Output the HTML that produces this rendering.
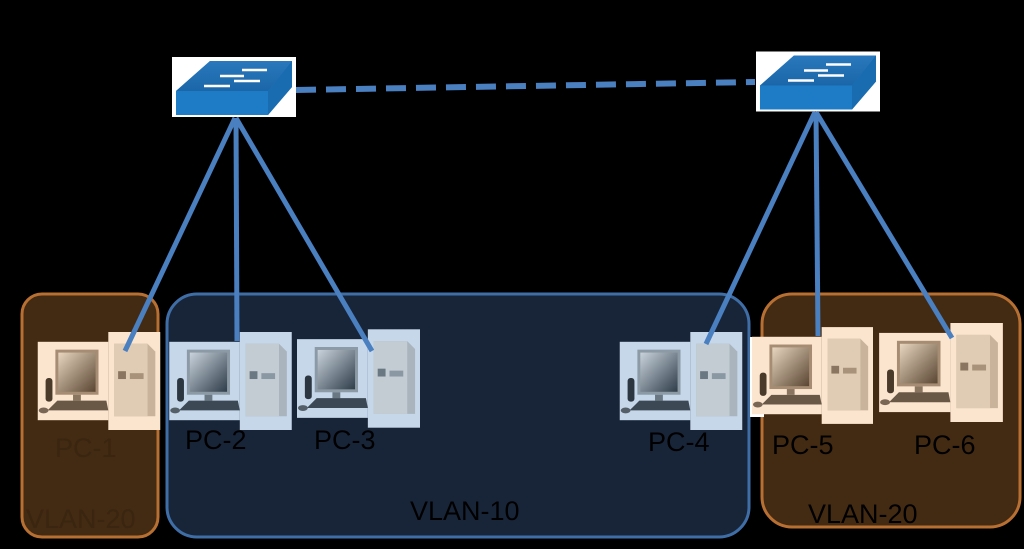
<!DOCTYPE html>
<html><head><style>
html,body{margin:0;padding:0;background:#000;width:1024px;height:549px;overflow:hidden}
svg{display:block}
text{font-family:"Liberation Sans",sans-serif}
</style></head><body>
<svg width="1024" height="549" viewBox="0 0 1024 549">
<defs>
<linearGradient id="mb" x1="0" y1="0" x2="1" y2="1"><stop offset="0" stop-color="#c9d3dc"/><stop offset="1" stop-color="#2f3d4a"/></linearGradient>
<linearGradient id="mp" x1="0" y1="0" x2="1" y2="1"><stop offset="0" stop-color="#e8d6c0"/><stop offset="1" stop-color="#5a4632"/></linearGradient>
<linearGradient id="swg" x1="0" y1="0" x2="0" y2="1"><stop offset="0" stop-color="#2a78bd"/><stop offset="1" stop-color="#1a66a8"/></linearGradient>
<symbol id="pcb" viewBox="0 0 125 100">
<rect x="0" y="10" width="72" height="80" fill="#c6d7ea"/>
<rect x="72" y="0" width="53" height="100" fill="#c6d7ea"/>
<rect x="18" y="18" width="44" height="46" fill="#8c9aa6"/><rect x="21" y="21" width="38" height="40" fill="url(#mb)"/>
<rect x="36" y="64" width="8" height="6" fill="#6a7884"/>
<rect x="8" y="47" width="7" height="24" rx="3" fill="#2b3640"/>
<polygon points="10,80 20,70 70,70 72,80" fill="#3c4954"/>
<ellipse cx="6" cy="80" rx="5" ry="3" fill="#555f68"/>
<polygon points="78,12 112,12 120,20 120,86 78,86" fill="#a9b4bc"/><rect x="78" y="12" width="34" height="74" fill="#c3ccd3"/>
<rect x="82" y="40" width="8" height="8" fill="#6a7884"/><rect x="94" y="42" width="14" height="6" fill="#8a98a4"/>
</symbol>
<symbol id="pcp" viewBox="0 0 125 100">
<rect x="0" y="10" width="72" height="80" fill="#fbe5cf"/>
<rect x="72" y="0" width="53" height="100" fill="#fbe5cf"/>
<rect x="18" y="18" width="44" height="46" fill="#a58c72"/><rect x="21" y="21" width="38" height="40" fill="url(#mp)"/>
<rect x="36" y="64" width="8" height="6" fill="#8a7560"/>
<rect x="8" y="47" width="7" height="24" rx="3" fill="#4a3a2a"/>
<polygon points="10,80 20,70 70,70 72,80" fill="#6a5846"/>
<ellipse cx="6" cy="80" rx="5" ry="3" fill="#7a6654"/>
<polygon points="78,12 112,12 120,20 120,86 78,86" fill="#c9b49b"/><rect x="78" y="12" width="34" height="74" fill="#e0ccb4"/>
<rect x="82" y="40" width="8" height="8" fill="#8a7560"/><rect x="94" y="42" width="14" height="6" fill="#a8927a"/>
</symbol>
<symbol id="swi" viewBox="0 0 124 60">
<rect width="124" height="60" fill="#fff"/>
<polygon points="4,34 38,4 120,4 120,30 96,58 4,58" fill="#1e7cc6"/>
<polygon points="4,34 38,4 120,4 96,34" fill="url(#swg)"/>
<polygon points="96,34 120,4 120,30 96,58" fill="#1a6cb0"/>
<g stroke="#fff" stroke-width="2.5"><line x1="70" y1="13" x2="95" y2="13"/><line x1="48" y1="19" x2="72" y2="19"/><line x1="62" y1="24" x2="88" y2="24"/><line x1="32" y1="29" x2="58" y2="29"/></g>
</symbol>
</defs>
<rect x="22" y="294" width="136" height="243" rx="20" fill="#432a13" stroke="#b86f32" stroke-width="3"/>
<rect x="167" y="294" width="582" height="243" rx="30" fill="#182538" stroke="#3f6ea6" stroke-width="3"/>
<rect x="762" y="294" width="258" height="233" rx="30" fill="#432a13" stroke="#b86f32" stroke-width="3"/>
<line x1="296" y1="90" x2="755" y2="82" stroke="#4a7fc0" stroke-width="6" stroke-dasharray="20,10"/>
<use href="#swi" x="172" y="57" width="124" height="60"/>
<use href="#swi" x="756" y="51" width="124" height="61"/>
<use href="#pcp" x="37" y="332" width="124" height="98"/>
<use href="#pcb" x="169" y="332" width="123" height="98"/>
<use href="#pcb" x="297" y="329" width="123" height="99"/>
<use href="#pcb" x="619" y="332" width="124" height="98"/>
<rect x="750" y="337" width="14" height="80" fill="#fff"/>
<use href="#pcp" x="752" y="326" width="121" height="99"/>
<use href="#pcp" x="879" y="323" width="124" height="99"/>
<g stroke="#4a7fc0" stroke-width="5">
<line x1="235" y1="118" x2="125" y2="351"/><line x1="236" y1="118" x2="237" y2="341"/><line x1="236" y1="118" x2="372" y2="351"/>
<line x1="815" y1="112" x2="706" y2="344"/><line x1="816" y1="112" x2="818" y2="336"/><line x1="816" y1="112" x2="952" y2="338"/>
</g>
<g font-size="27" fill="#000">
<text x="55" y="457" fill="#3a2510">PC-1</text>
<text x="185" y="449">PC-2</text><text x="314" y="449">PC-3</text>
<text x="648" y="451">PC-4</text><text x="772" y="454">PC-5</text><text x="914" y="454">PC-6</text>
<text x="410" y="520">VLAN-10</text><text x="808" y="523">VLAN-20</text>
<text x="26" y="528" fill="#3a2510">VLAN-20</text>
<text x="203" y="55">Sw-1</text><text x="806" y="49">Sw-2</text>
<text x="460" y="72">Trunk</text>
</g>
</svg>
</body></html>
